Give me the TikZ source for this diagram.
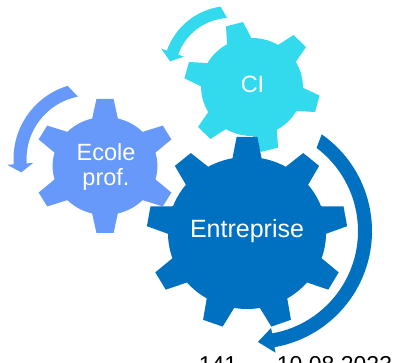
\documentclass[tikz,border=0pt]{standalone}
\usepackage{fontspec}
\setmainfont{Liberation Sans}
\definecolor{ecolec}{RGB}{102,153,250}
\definecolor{cic}{RGB}{51,218,238}
\definecolor{entrc}{RGB}{0,112,192}
% #1 center, #2 xscale, #3 body r, #4 outer R, #5 base half, #6 tip half, #7 angles, #8 colour
\newcommand\mygear[8]{%
  \begin{scope}[shift={#1}, xscale=#2]
    \fill[#8] (0,0) circle[radius=#3];
    \foreach \a in {#7} {\fill[#8, rotate=\a] (#3-4,-#5) -- (#4,-#6) -- (#4,#6) -- (#3-4,#5) -- cycle;}
  \end{scope}}
% #1 center, #2 r, #3 half width, #4 head half, #5 tail outer angle, #6 tail inner angle, #7 head base angle, #8 tip angle, #9 colour
\newcommand\myarrow[9]{%
  \begin{scope}[shift={#1}]
    \fill[#9] (#5:#2+#3) arc[start angle=#5, end angle=#7, radius=#2+#3]
      -- (#7:#2+#4) -- (#8:#2) -- (#7:#2-#4) -- (#7:#2-#3)
      arc[start angle=#7, end angle=#6, radius=#2-#3] -- cycle;
  \end{scope}}
\tikzset{lbl/.style={text=white, inner sep=0pt, anchor=base},
  bigf/.style={font=\fontsize{25}{29}\selectfont},
  midf/.style={font=\fontsize{23.5}{27}\selectfont},
  foot/.style={text=black, inner sep=0pt, anchor=base, font=\fontsize{23}{27}\selectfont}}
\begin{document}
\begin{tikzpicture}[x=1pt,y=1pt]
\useasboundingbox (0,0) rectangle (396,363);
% arrows
\myarrow{(90,204)}{70}{6.5}{13}{107}{101}{184}{191}{ecolec}
\myarrow{(230,290)}{61}{6}{12}{98}{93}{160.5}{169}{cic}
\myarrow{(254,132)}{111}{7}{12.5}{55}{53}{-80}{-88}{entrc}
% gears
\mygear{(105,197)}{1.07}{49}{67}{12.5}{8}{90,30,-30,-90,-150,150}{ecolec}
\mygear{(252,276)}{1.04}{49}{65}{12.5}{8.5}{105,45,-15,-75,-135,165}{cic}
\mygear{(247,130)}{1.04}{76}{96}{14.5}{10}{90,50,10,-30,-70,-110,-150,170,130}{entrc}
% labels
\node[lbl, bigf] (entr) at (247,125) {Entreprise};
\node[lbl, midf] (ecole1) at (106,202) {Ecole};
\node[lbl, midf] (ecole2) at (106,177) {prof.};
\node[lbl, midf] (ci) at (252.5,270) {CI};
\node[foot] (page) at (218,-10) {141};
\node[foot] (date) at (334.5,-10) {10.08.2023};
\end{tikzpicture}
\end{document}
